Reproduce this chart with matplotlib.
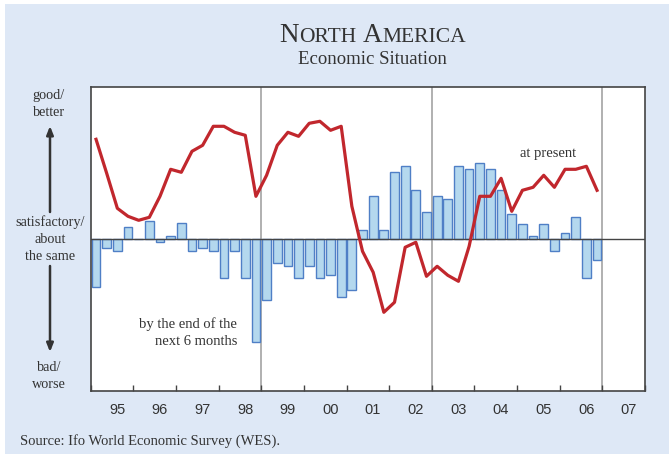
import matplotlib.pyplot as plt
import numpy as np
from matplotlib.offsetbox import TextArea, HPacker, AnnotationBbox
from matplotlib.patches import Rectangle

# quarterly WES values, 1995 Q1 .. 2006 Q4 (arbitrary balance units, 0 = satisfactory)
expectations = [
    -48, -9, -12, 12,      # 1995
    0, 18, -3, 3,          # 1996
    16, -12, -9, -12,      # 1997
    -39, -12, -39, -103,   # 1998
    -61, -24, -27, -39,    # 1999
    -27, -39, -36, -58,    # 2000
    -51, 9, 43, 9,         # 2001
    67, 73, 49, 27,        # 2002
    43, 40, 73, 70,        # 2003
    76, 70, 49, 25,        # 2004
    15, 3, 15, -12,        # 2005
    6, 22, -39, -21,       # 2006
]
present = [
    100, 66, 31, 23,       # 1995
    19, 22, 43, 70,        # 1996
    67, 88, 94, 113,       # 1997
    113, 107, 104, 43,     # 1998
    64, 94, 107, 103,      # 1999
    116, 118, 109, 113,    # 2000
    33, -12, -33, -73,     # 2001
    -63, -8, -3, -37,      # 2002
    -27, -36, -42, -7,     # 2003
    43, 43, 61, 28,        # 2004
    49, 52, 64, 52,        # 2005
    70, 70, 73, 49,        # 2006
]
year_labels = ["95", "96", "97", "98", "99", "00", "01", "02", "03", "04", "05", "06", "07"]
first_year = 1995

BG = "#dee8f6"
RED = "#c1272d"
BAR_FILL = "#b4d8ee"
BAR_EDGE = "#4f7fc6"
TXT = "#333333"
W, H = 669, 454


def fx(px):
    return px / W


def fy(py):
    return 1 - py / H


fig = plt.figure(figsize=(6.69, 4.54), dpi=100)
fig.patch.set_facecolor("white")
fig.patches.append(Rectangle((fx(5), 0), 1, fy(4), transform=fig.transFigure,
                             facecolor=BG, edgecolor="none", zorder=-10))

ax = fig.add_axes([fx(90.7), fy(390.7), fx(645) - fx(90.7), fy(87.3) - fy(390.7)])
ax.set_facecolor("white")

x = first_year + (np.arange(len(expectations)) + 0.5) / 4
ax.bar(x, expectations, width=0.205, color=BAR_FILL, edgecolor=BAR_EDGE,
       linewidth=1.0, zorder=2)
ax.axhline(0, color="#444444", lw=1.0, zorder=3)
ax.plot(x, present, color=RED, lw=2.3, zorder=4)
for yr in [1999, 2003, 2007]:
    ax.axvline(yr, color="#aaaaaa", lw=1.3, zorder=1)

ax.set_xlim(first_year, first_year + len(year_labels))
ax.set_ylim(-151.4, 152)
ax.set_yticks([])
ax.set_xticks(range(first_year, first_year + len(year_labels) + 1))
ax.set_xticklabels([])
ax.tick_params(axis="x", which="major", direction="in", length=4, width=1, color="#444444")
ax.set_xticks([first_year + i + 0.62 for i in range(len(year_labels))], year_labels, minor=True)
ax.tick_params(axis="x", which="minor", length=0, pad=9, labelsize=10.5, labelcolor=TXT)
for lab in ax.get_xticklabels(minor=True):
    lab.set_fontfamily("Liberation Sans")
for s in ax.spines.values():
    s.set_color("#444444")
    s.set_linewidth(1.2)

serif = "Liberation Serif"

# small-caps title
def piece(s, size):
    return TextArea(s, textprops=dict(size=size, family=serif, color=TXT))

word1 = HPacker(children=[piece("N", 19.5), piece("ORTH", 15.5)], align="baseline", pad=0, sep=0)
word2 = HPacker(children=[piece("A", 19.5), piece("MERICA", 15.5)], align="baseline", pad=0, sep=0)
title = HPacker(children=[word1, word2], align="baseline", pad=0, sep=5)
fig.add_artist(AnnotationBbox(title, (fx(373), fy(35)), xycoords="figure fraction",
                              frameon=False, box_alignment=(0.5, 0.5)))
fig.text(fx(372), fy(60), "Economic Situation", family=serif, size=13.5, color=TXT,
         ha="center", va="center")

# left-hand scale description
lab_kw = dict(family=serif, size=10.3, color=TXT, ha="center", va="center", linespacing=1.38)
fig.text(fx(49), fy(104), "good/\nbetter", **lab_kw)
fig.text(fx(50), fy(239), "satisfactory/\nabout\nthe same", **lab_kw)
fig.text(fx(49), fy(376), "bad/\nworse", **lab_kw)
arrow_kw = dict(arrowstyle="-|>,head_length=0.5,head_width=0.2", color="#333333", lw=1.8,
                shrinkA=0, shrinkB=0)
ax.annotate("", xy=(fx(50), fy(126)), xytext=(fx(50), fy(212)),
            xycoords="figure fraction", textcoords="figure fraction", arrowprops=arrow_kw,
            annotation_clip=False)
ax.annotate("", xy=(fx(50), fy(352)), xytext=(fx(50), fy(266)),
            xycoords="figure fraction", textcoords="figure fraction", arrowprops=arrow_kw,
            annotation_clip=False)

# series annotations
fig.text(fx(548), fy(153), "at present", family=serif, size=10.5, color=TXT,
         ha="center", va="center")
fig.text(fx(237), fy(333), "by the end of the\nnext 6 months", family=serif, size=10.5,
         color=TXT, ha="right", va="center", linespacing=1.4)

fig.text(fx(20), fy(441), "Source: Ifo World Economic Survey (WES).", family=serif,
         size=10.5, color=TXT, ha="left", va="center")

fig.savefig("out.png", dpi=100, facecolor=fig.get_facecolor())
